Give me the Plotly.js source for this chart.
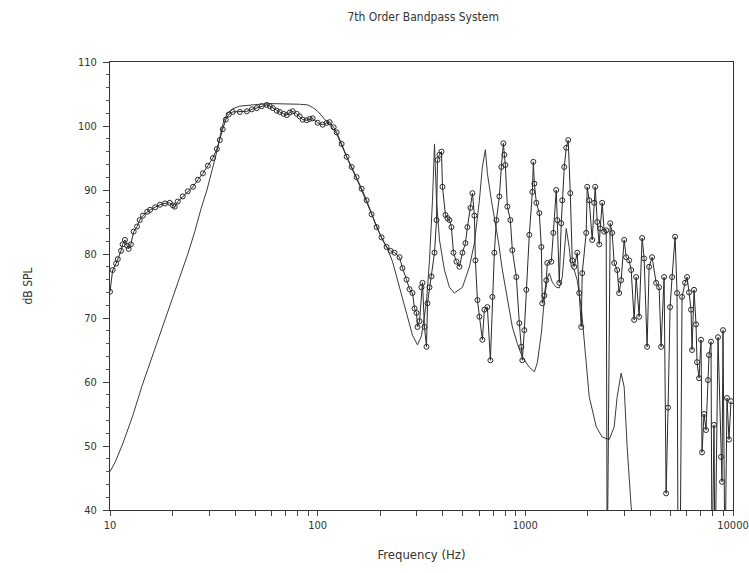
<!DOCTYPE html>
<html>
<head>
<meta charset="utf-8">
<script src="https://cdn.plot.ly/plotly-3.0.1.min.js"></script>
<style>html,body{margin:0;padding:0;background:#fff;}#chart{width:749px;height:573px;}</style>
</head>
<body>
<div id="chart"></div>
<script>
// Simulated (smooth) response
const simFreq = [10, 10.6, 11.5, 12.8, 14.3, 15.6, 17.0, 18.6, 20.5, 22.4, 23.7, 25.6, 27.4, 29.3, 31.3, 32.7, 34.2, 35.3, 36.9, 39.0,
  42.2, 47.1, 52.6, 58.8, 65.7, 73.4, 81.9, 89.5, 94.6, 100, 104.5, 110.5, 116.8, 123.4, 130.4, 137.9, 145.7, 154, 162.8, 172,
  181.8, 192.2, 203.1, 217, 229.4, 247.9, 267.9, 286.2, 302.5, 316.2, 334.2, 345.5, 357.2, 365.2, 373.4, 386, 407.9, 431.1, 455.7, 497.9,
  537.9, 568.5, 600.9, 621.2, 642.2, 656.6, 686.3, 709.4, 741.5, 775.1, 819.2, 865.8, 915.1, 967.2, 1045, 1105, 1142, 1194, 1234, 1276,
  1304, 1348, 1409, 1457, 1506, 1540, 1574, 1627, 1664, 1720, 1778, 1859, 1922, 1986, 2031, 2195, 2345, 2534, 2678, 2768,
  2894, 2992, 3093, 3233, 3306];
const simDb = [46.0, 47.5, 50.3, 54.5, 59.5, 63.0, 66.5, 70.0, 74.0, 77.5, 80.0, 83.5, 87.0, 90.0, 93.5, 96.0, 99.0, 100.8, 102.0, 102.7,
  103.1, 103.3, 103.4, 103.5, 103.5, 103.5, 103.4, 103.3, 102.9, 102.3, 101.6, 100.8, 99.8, 98.8, 97.0, 95.1, 93.4, 91.8, 90.0, 88.2,
  86.3, 84.4, 82.5, 80.8, 78.8, 74.8, 70.8, 67.3, 65.8, 67.2, 72.5, 79.0, 88.4, 97.2, 88.4, 82.2, 77.5, 74.8, 73.9, 74.8,
  78.0, 81.7, 88.4, 93.6, 96.3, 92.6, 88.4, 85.8, 82.0, 77.5, 72.8, 68.6, 66.0, 63.9, 62.3, 61.6, 63.0, 67.6, 72.8, 76.2,
  77.0, 75.6, 74.8, 74.7, 76.4, 80.6, 84.0, 81.0, 78.0, 77.5, 75.9, 71.7, 66.1, 60.8, 57.7, 53.0, 51.4, 51.0, 53.0, 57.7,
  61.4, 59.2, 49.8, 40.5, 38.0];

// Measured response
const measFreq = [10, 10.3, 10.7, 10.9, 11.3, 11.5, 11.8, 12.1, 12.3, 12.6, 13.0, 13.5, 13.9, 14.4, 15.1, 15.6, 16.5, 17.4, 18.4, 19.4,
  20.1, 20.5, 21.2, 22.4, 23.7, 25.1, 26.5, 28.0, 29.6, 31.3, 32.7, 33.8, 34.9, 36.1, 37.3, 39.0, 42.2, 45.6, 48.2, 50.9,
  53.8, 56.9, 58.8, 60.8, 63.5, 65.7, 68.6, 71.0, 73.4, 75.8, 79.3, 81.9, 84.7, 88.5, 91.5, 94.6, 100, 105.7, 110.5, 114.2,
  119.4, 123.4, 130.4, 137.9, 145.7, 154.0, 162.8, 172.0, 181.8, 192.2, 203.1, 214.7, 224.4, 234.5, 247.9, 256.2, 267.9, 276.9, 286.2, 292.6,
  299.2, 302.5, 309.3, 316.2, 319.7, 326.9, 334.2, 338, 345.5, 353.3, 365.2, 373.4, 377.6, 386.0, 394.6, 399.0, 412.5, 421.7, 431.1, 440.7,
  450.6, 465.9, 481.6, 497.9, 514.7, 526.2, 544.0, 556.2, 568.5, 574.9, 587.8, 600.9, 621.2, 635.1, 656.6, 678.8, 693.8, 709.4, 725.4, 749.9,
  766.5, 783.8, 792.5, 801.3, 819.2, 846.9, 865.8, 905.1, 935.6, 956.6, 967.2, 989, 1011, 1045, 1081, 1093, 1105, 1130, 1168, 1194,
  1207, 1234, 1262, 1276, 1334, 1364, 1409, 1425, 1457, 1489, 1506, 1540, 1574, 1609, 1646, 1683, 1720, 1778, 1818, 1859,
  1879, 1964, 1986, 2031, 2099, 2146, 2170, 2219, 2269, 2294, 2345, 2398, 2451, 2479, 2562, 2619, 2678, 2768, 2830, 2894,
  2992, 3059, 3162, 3233, 3342, 3417, 3532, 3651, 3733, 3859, 3946, 4079, 4264, 4408, 4506, 4659, 4763, 4869, 4978, 5089,
  5261, 5378, 5438, 5560, 5684, 5877, 6010, 6143, 6280, 6350, 6492, 6637, 6711, 6862, 7015, 7093, 7252, 7415, 7580, 7665,
  7836, 7924, 8101, 8192, 8468, 8754, 8852, 8950, 9151, 9356, 9566, 9780];
const measDb = [74.1, 77.5, 78.5, 79.2, 80.5, 81.5, 82.2, 81.3, 80.8, 81.5, 83.5, 84.3, 85.3, 86.0, 86.6, 86.9, 87.3, 87.7, 87.9, 88.0,
  87.6, 87.4, 88.2, 89.0, 89.8, 90.5, 91.6, 92.6, 93.8, 95.0, 96.4, 97.8, 99.5, 101.0, 101.8, 102.2, 102.2, 102.3, 102.6, 102.8,
  103.1, 103.3, 103.1, 102.8, 102.4, 102.2, 101.9, 101.7, 102.1, 102.3, 101.9, 101.5, 101.0, 100.9, 101.1, 101.2, 100.5, 100.2, 100.5, 100.6,
  99.8, 99.0, 97.2, 95.2, 93.6, 92.0, 90.2, 88.4, 86.2, 84.2, 82.6, 81.1, 80.5, 80.2, 79.5, 77.8, 76.0, 74.5, 73.9, 71.5,
  70.8, 68.6, 69.5, 74.8, 75.5, 68.6, 65.5, 72.3, 74.8, 76.5, 80.2, 85.3, 94.7, 95.5, 96.0, 90.5, 86.1, 85.6, 85.3, 84.2,
  80.2, 78.8, 78.0, 80.2, 81.7, 84.2, 87.2, 89.5, 86.0, 79.0, 72.8, 70.2, 66.6, 71.3, 71.7, 63.4, 73.3, 80.2, 85.3, 89.0,
  93.6, 97.3, 95.5, 93.9, 87.4, 85.3, 80.6, 76.4, 69.2, 65.5, 63.4, 68.1, 74.4, 83.0, 89.7, 94.4, 91.0, 88.0, 86.4, 81.1,
  72.3, 73.5, 75.9, 78.6, 78.8, 83.3, 90.0, 85.3, 75.5, 84.8, 88.4, 93.6, 96.6, 97.8, 89.5, 79.0, 78.0, 80.2, 73.9, 68.6,
  77.0, 83.3, 90.5, 88.4, 82.2, 88.0, 90.5, 85.0, 81.5, 84.0, 88.0, 83.5, 83.7, 30, 84.8, 83.3, 78.6, 77.5, 73.9, 75.9,
  82.2, 79.5, 79.0, 77.5, 69.7, 76.4, 70.2, 82.5, 79.3, 65.5, 78.0, 79.5, 75.5, 74.8, 65.5, 76.4, 42.6, 56.0, 71.7, 76.4,
  82.7, 73.9, 30, 30, 73.3, 75.5, 76.4, 74.0, 71.3, 65.0, 74.4, 69.0, 63.1, 60.6, 66.6, 49.0, 55.0, 52.5, 60.3, 64.2,
  66.3, 30, 53.3, 30, 67.0, 48.3, 44.4, 68.1, 30, 57.5, 51.0, 57.0];

// Axis ticks
const xTickVals = [10,20,30,40,50,60,70,80,90,100,200,300,400,500,600,700,800,900,1000,2000,3000,4000,5000,6000,7000,8000,9000,10000];
const xTickText = xTickVals.map(v => ([10,100,1000,10000].includes(v) ? String(v) : ''));
const yTickVals = [40,50,60,70,80,90,100,110];

const fontFam = '"DejaVu Sans Condensed", "Liberation Sans Narrow", sans-serif';
const ink = '#2a2a2a';

const traces = [
  {
    x: simFreq, y: simDb, type: 'scatter', mode: 'lines',
    line: {color: '#3a3a3a', width: 1}, hoverinfo: 'skip', showlegend: false
  },
  {
    x: measFreq, y: measDb, type: 'scatter', mode: 'lines+markers',
    line: {color: ink, width: 1},
    marker: {symbol: 'circle-open', size: 5, color: ink, line: {width: 1, color: ink}},
    hoverinfo: 'skip', showlegend: false
  }
];

const layout = {
  width: 749, height: 573,
  margin: {l: 110, r: 16, t: 62, b: 63},
  paper_bgcolor: '#fff', plot_bgcolor: '#fff',
  title: {text: '7th Order Bandpass System', x: 0.565, xanchor: 'center', y: 0.97, yanchor: 'middle',
          font: {family: fontFam, size: 12, color: '#333'}},
  xaxis: {
    type: 'log', range: [1, 4], tickmode: 'array', tickvals: xTickVals, ticktext: xTickText,
    ticks: 'outside', ticklen: 5, tickcolor: '#444', tickwidth: 1,
    showline: true, linecolor: '#333', linewidth: 1, mirror: true,
    showgrid: false, zeroline: false,
    tickfont: {family: fontFam, size: 11, color: '#333'},
    title: {text: 'Frequency (Hz)', standoff: 18, font: {family: fontFam, size: 13, color: '#333'}}
  },
  yaxis: {
    range: [40, 110], tickmode: 'array', tickvals: yTickVals,
    ticks: 'outside', ticklen: 6, tickcolor: '#444', tickwidth: 1,
    minor: {dtick: 2, ticks: 'outside', ticklen: 3, tickcolor: '#555', showgrid: false},
    showline: true, linecolor: '#333', linewidth: 1, mirror: true,
    showgrid: false, zeroline: false,
    tickfont: {family: fontFam, size: 11, color: '#333'},
    ticklabelstandoff: 4,
    title: {text: 'dB SPL', standoff: 42, font: {family: fontFam, size: 12, color: '#333'}}
  }
};

Plotly.newPlot('chart', traces, layout, {staticPlot: true, displayModeBar: false});
</script>
</body>
</html>
